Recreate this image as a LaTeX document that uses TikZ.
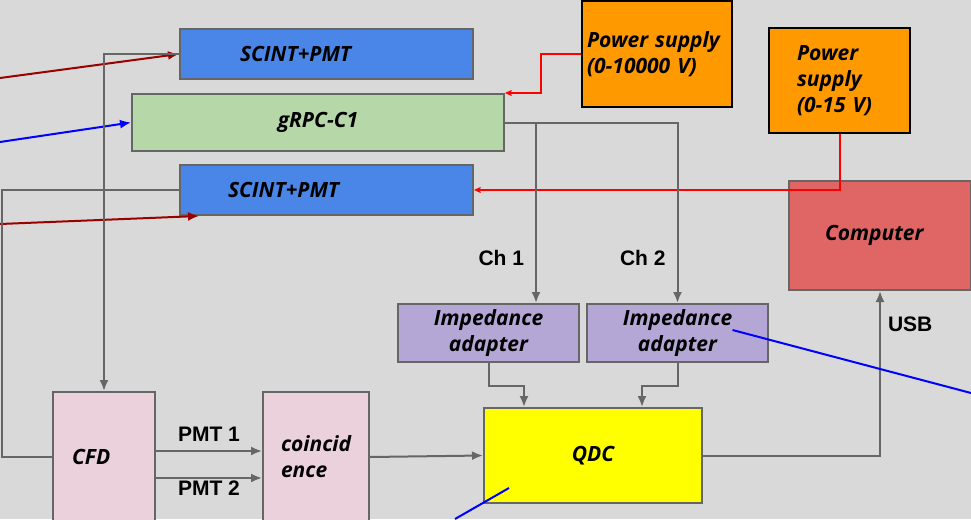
\documentclass[tikz,border=0pt]{standalone}
\usepackage{fontspec}
\setmainfont{Open Sans}
\newfontfamily\labelfont{Liberation Sans}
\usepackage{xcolor}
\usepackage{tikz}
\usetikzlibrary{arrows.meta,calc}
\definecolor{GrayBack}{HTML}{D9D9D9}
\definecolor{GrayWire}{HTML}{666666}
\definecolor{BlueScint}{HTML}{4A86E8}
\definecolor{GreenRPC}{HTML}{B6D7A8}
\definecolor{OrangeSupply}{HTML}{FF9900}
\definecolor{RedComputer}{HTML}{E06666}
\definecolor{VioletAdapter}{HTML}{B4A7D6}
\definecolor{YellowQDC}{HTML}{FFFF00}
\definecolor{PinkModule}{HTML}{EAD1DC}
\definecolor{DarkRedRay}{HTML}{990000}
\definecolor{RedPower}{HTML}{FF0000}
\definecolor{BlueTrack}{HTML}{0000FF}

\begin{document}
\begin{tikzpicture}[x=1pt,y=-1pt,>={Latex[length=11pt,width=9pt]},
  box/.style={draw=GrayWire,line width=2pt,inner sep=0pt,
    font=\fontsize{21}{26}\selectfont\bfseries\itshape},
  supply/.style={box,draw=black,fill=OrangeSupply,align=left},
  module/.style={box,fill=PinkModule,align=left,minimum width=#1,minimum height=130pt},
  adapter/.style={box,fill=VioletAdapter,align=center,minimum width=181pt,minimum height=58pt},
  wire/.style={draw=GrayWire,line width=2pt},
  power/.style={draw=RedPower,line width=2pt,-{Stealth[length=11pt,width=10pt,inset=7pt]}},
  ray/.style={line width=2pt,->},
  chlabel/.style={font=\labelfont\fontsize{21}{25}\selectfont\bfseries,inner sep=0pt}]
  \useasboundingbox (0,0) rectangle (971,519);
  \fill[GrayBack] (0,0) rectangle (971,519);
  \clip (0,0) rectangle (971,519);
  % detector stack
  \node[box,fill=BlueScint,minimum width=293pt,minimum height=50pt,
    text width=173pt,inner xsep=60pt,align=left] (scintA) at (326.5,54) {SCINT+PMT};
  \node[box,fill=GreenRPC,minimum width=372pt,minimum height=57pt] (grpc) at (318,122.5) {gRPC-C1};
  \node[box,fill=BlueScint,minimum width=293pt,minimum height=50pt,
    text width=197pt,inner xsep=48pt,align=left] (scintB) at (326.5,190) {SCINT+PMT};
  % power supplies and computer
  \node[supply,minimum width=150pt,minimum height=106pt,text width=140pt,inner xsep=5pt]
    (psHV) at (657,54) {Power supply\\(0-10000 V)};
  \node[supply,minimum width=141pt,minimum height=105pt,text width=85pt,inner xsep=28pt]
    (psLV) at (839.5,80.5) {Power\\supply\\(0-15 V)};
  \node[box,fill=RedComputer,minimum width=182pt,minimum height=109pt,
    text width=110pt,inner xsep=36pt,align=left] (computer) at (880,235.5) {Computer};
  % electronics
  \node[adapter] (impA) at (488.5,333) {Impedance\\adapter};
  \node[adapter] (impB) at (677.5,333) {Impedance\\adapter};
  \node[box,fill=YellowQDC,minimum width=218pt,minimum height=95pt] (qdc) at (593,455.5) {QDC};
  \node[module=102pt,text width=64pt,inner xsep=19pt] (cfd) at (104,457) {CFD};
  \node[module=106pt,text width=70pt,inner xsep=18pt] (coinc) at (316,457) {coincid\\ence};
  % free ends
  \coordinate (rayA) at (0,78);
  \coordinate (rayB) at (0,142);
  \coordinate (rayC) at (0,224);
  \coordinate (trackA) at (971,393);
  \coordinate (trackB) at (455,519);
  % rays into the detectors
  \draw[ray,DarkRedRay] (rayA) -- (scintA.west);
  \draw[ray,BlueTrack] (rayB) -- (grpc.west);
  \draw[ray,DarkRedRay] (rayC) -- ([xshift=20pt]scintB.south west);
  % high and low voltage
  \draw[power] (psHV.west) -- ++(-40,0) |- (grpc.north east);
  \draw[power] (psLV.south) |- (scintB.east);
  % signals
  \draw[wire,->] (scintA.west) -| (cfd.north);
  \draw[wire] (scintB.west) -- ++(-177,0) |- (cfd.west);
  \draw[wire,->] (grpc.east) -| ([xshift=-44pt]impA.north east)
    node[chlabel,pos=0.875,left=11pt] (chA) {Ch 1};
  \draw[wire,->] (grpc.east) -| (impB.north)
    node[chlabel,pos=0.875,left=11pt] (chB) {Ch 2};
  \draw[wire,->] (impA.south) -- ++(0,23) -| ([xshift=41pt]qdc.north west);
  \draw[wire,->] (impB.south) -- ++(0,23) -| ([xshift=-61pt]qdc.north east);
  \draw[wire,->] ([yshift=6pt]cfd.east) -- ([yshift=6pt]coinc.west)
    node[chlabel,midway,above=9pt] (pmtA) {PMT 1};
  \draw[wire,->] ([yshift=-21pt]cfd.east) -- ([yshift=-21pt]coinc.west)
    node[chlabel,midway,below=2pt] (pmtB) {PMT 2};
  \draw[wire,->] (coinc.east) -- (qdc.west);
  \draw[wire,->] (qdc.east) -| (computer.south)
    node[chlabel,pos=0.9,right=7pt] (usb) {USB};
  % tracks
  \draw[BlueTrack,line width=2pt] ([xshift=55pt,yshift=3pt]impB.center) -- (trackA);
  \draw[BlueTrack,line width=2pt] ([xshift=26pt,yshift=16pt]qdc.south west) -- (trackB);
\end{tikzpicture}
\end{document}
